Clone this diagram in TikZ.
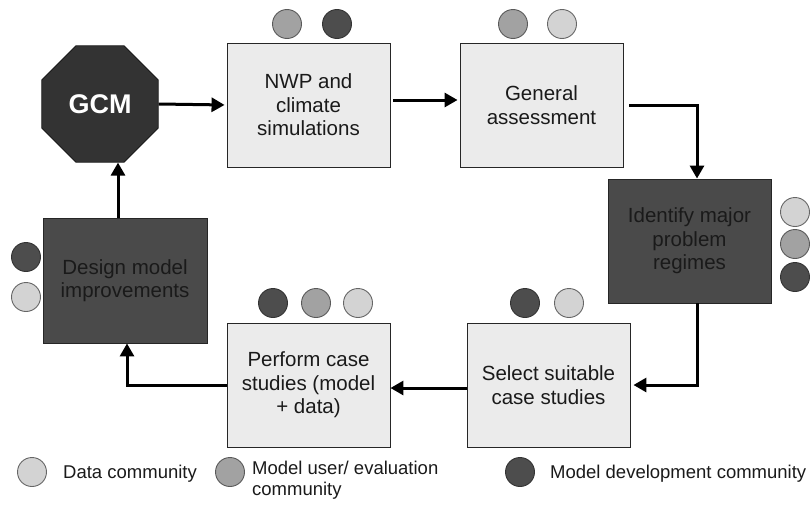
\documentclass[tikz,border=0pt]{standalone}
\usepackage{fontspec}
\setmainfont{Liberation Sans}
\usetikzlibrary{shapes.geometric,arrows.meta,calc}
\definecolor{boxlight}{HTML}{EBEBEB}
\definecolor{boxdark}{HTML}{4A4A4A}
\definecolor{gcmfill}{HTML}{333333}
\definecolor{clight}{HTML}{D3D3D3}
\definecolor{cmid}{HTML}{A2A2A2}
\definecolor{cdark}{HTML}{4D4D4D}
\definecolor{ink}{HTML}{1A1A1A}
\begin{document}
\begin{tikzpicture}[x=1pt,y=-1pt,
  stepbox/.style={rectangle, draw=black!85, line width=0.9pt, minimum width=163pt, minimum height=124pt, align=center, font=\fontsize{20.5}{23.5}\selectfont, text=ink, inner sep=0pt},
  lightbox/.style={stepbox, fill=boxlight},
  darkbox/.style={stepbox, fill=boxdark},
  dot/.style={circle, minimum size=29pt, inner sep=0pt, line width=0.9pt},
  dl/.style={dot, fill=clight, draw=black!60},
  dm/.style={dot, fill=cmid, draw=black!65},
  dd/.style={dot, fill=cdark, draw=black!80},
  flow/.style={line width=3pt, -{Triangle[length=13pt,width=14pt]}},
  legtext/.style={font=\fontsize{18.5}{20.5}\selectfont, text=ink, anchor=base west, align=left, inner sep=0pt}
]
\useasboundingbox (0,0) rectangle (811,506);

% GCM octagon
\node[regular polygon, regular polygon sides=8, minimum size=126pt, fill=gcmfill, draw=black!90, line width=0.8pt, inner sep=0pt, text=white, font=\fontsize{27}{30}\selectfont\bfseries] (gcm) at (100,104) {GCM};

% step boxes
\node[lightbox] (nwp) at (308.5,105) {NWP and\\climate\\simulations};
\node[lightbox] (gen) at (541.5,105) {General\\assessment};
\node[darkbox] (ident) at (689.5,241) {Identify major\\problem\\regimes};
\node[lightbox] (sel) at (548.5,385) {Select suitable\\case studies};
\node[lightbox] (perf) at (308.5,385) {Perform case\\studies (model\\+ data)};
\node[darkbox, minimum width=164pt, minimum height=125pt] (design) at (125,280.5) {Design model\\improvements};

% community dots
\node[dm] (nwp1) at (287,24) {};
\node[dd] (nwp2) at (337,24) {};
\node[dm] (gen1) at (513,24) {};
\node[dl] (gen2) at (562,24) {};
\node[dl] (id1) at (795,212) {};
\node[dm] (id2) at (795,244) {};
\node[dd] (id3) at (795,277) {};
\node[dd] (sel1) at (525,303) {};
\node[dl] (sel2) at (569,303) {};
\node[dd] (perf1) at (273,303) {};
\node[dm] (perf2) at (316,303) {};
\node[dl] (perf3) at (358,303) {};
\node[dd] (des1) at (26,257) {};
\node[dl] (des2) at (26,297) {};

% connectors
\draw[flow, shorten >=2pt] (gcm.east) -- (nwp.west);
\draw[flow, shorten <=3pt, shorten >=2pt] ([yshift=5pt]nwp.east) -- ([yshift=5pt]gen.west);
\draw[flow, shorten <=3pt] ([xshift=3pt]gen.east) -| ([xshift=7.5pt]ident.north);
\draw[flow, shorten >=3pt] ([xshift=7.5pt]ident.south) |- (sel.east);
\draw[flow] ([yshift=-3pt]sel.west) -- ([yshift=-3pt]perf.east);
\draw[flow] (perf.west) -| ([xshift=2pt]design.south);
\draw[flow] ([xshift=-7pt]design.north) -- ([xshift=-7pt]design.north |- gcm.south);

% legend
\node[dl] (lg1) at (32,472) {};
\node[legtext] (lt1) at (63,478.5) {Data community};
\node[dm] (lg2) at (230,472) {};
\node[legtext] (lt2) at (252,495) {Model user/ evaluation\\community};
\node[dd] (lg3) at (520,472) {};
\node[legtext] (lt3) at (550,478.5) {Model development community};
\end{tikzpicture}
\end{document}
